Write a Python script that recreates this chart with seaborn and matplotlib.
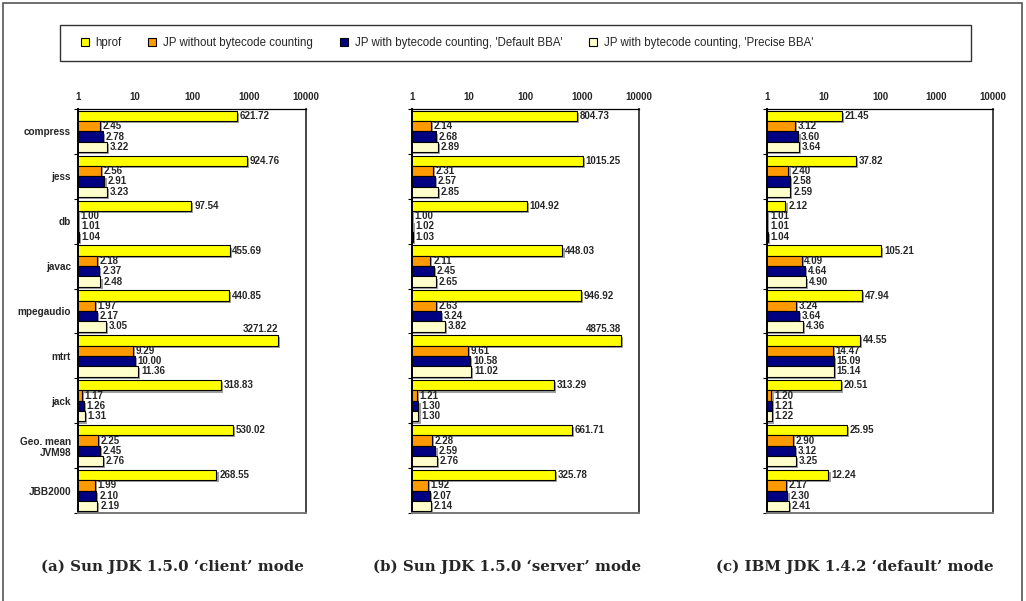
import matplotlib
matplotlib.use("Agg")
import matplotlib.pyplot as plt
import matplotlib.patheffects as pe
from matplotlib.patches import Rectangle, Patch
import pandas as pd
import seaborn as sns

benchmarks = ['compress', 'jess', 'db', 'javac', 'mpegaudio', 'mtrt', 'jack',
              'Geo. mean\nJVM98', 'JBB2000']
series = ['hprof', 'JP without bytecode counting',
          "JP with bytecode counting, 'Default BBA'",
          "JP with bytecode counting, 'Precise BBA'"]
colors = ['#FFFF00', '#FF9900', '#000080', '#FFFFCC']

# (a) Sun JDK 1.5.0 client
a_hprof = [621.72, 924.76, 97.54, 455.69, 440.85, 3271.22, 318.83, 530.02, 268.55]
a_nobc = [2.45, 2.56, 1.00, 2.18, 1.97, 9.29, 1.17, 2.25, 1.99]
a_default = [2.78, 2.91, 1.01, 2.37, 2.17, 10.00, 1.26, 2.45, 2.10]
a_precise = [3.22, 3.23, 1.04, 2.48, 3.05, 11.36, 1.31, 2.76, 2.19]
# (b) Sun JDK 1.5.0 server
b_hprof = [804.73, 1015.25, 104.92, 448.03, 946.92, 4875.38, 313.29, 661.71, 325.78]
b_nobc = [2.14, 2.31, 1.00, 2.11, 2.63, 9.61, 1.21, 2.28, 1.92]
b_default = [2.68, 2.57, 1.02, 2.45, 3.24, 10.58, 1.30, 2.59, 2.07]
b_precise = [2.89, 2.85, 1.03, 2.65, 3.82, 11.02, 1.30, 2.76, 2.14]
# (c) IBM JDK 1.4.2 default
c_hprof = [21.45, 37.82, 2.12, 105.21, 47.94, 44.55, 20.51, 25.95, 12.24]
c_nobc = [3.12, 2.40, 1.01, 4.09, 3.24, 14.47, 1.20, 2.90, 2.17]
c_default = [3.60, 2.58, 1.01, 4.64, 3.64, 15.09, 1.21, 3.12, 2.30]
c_precise = [3.64, 2.59, 1.04, 4.90, 4.36, 15.14, 1.22, 3.25, 2.41]

ticks = [1, 10, 100, 1000, 10000]
tick_labels = ['1', '10', '100', '1000', '10000']
captions = ["(a) Sun JDK 1.5.0 \u2018client\u2019 mode",
            "(b) Sun JDK 1.5.0 \u2018server\u2019 mode",
            "(c) IBM JDK 1.4.2 \u2018default\u2019 mode"]

panels = [(a_hprof, a_nobc, a_default, a_precise),
          (b_hprof, b_nobc, b_default, b_precise),
          (c_hprof, c_nobc, c_default, c_precise)]

sns.set_style("white")
plt.rcParams['font.family'] = ['Liberation Sans', 'DejaVu Sans']

W, H = 1026, 601
fig = plt.figure(figsize=(W / 100, H / 100), dpi=100)

def fx(px):
    return px / W

def fy(py):
    return 1 - py / H

# outer frame
fig.patches.append(Rectangle((fx(3), -0.1), fx(1022) - fx(3), fy(3) + 0.1,
                             transform=fig.transFigure, fill=False,
                             edgecolor='#555555', lw=1.2))
# legend box
fig.patches.append(Rectangle((fx(60), fy(61)), fx(971) - fx(60), fy(25) - fy(61),
                             transform=fig.transFigure, fill=False,
                             edgecolor='#333333', lw=1.0))

lefts = [78, 412, 767]
rights = [306, 639, 993]
cap_x = [172, 507, 855]
top, bottom = 109, 513

shadow = [pe.SimplePatchShadow(offset=(1.5, -1.5), shadow_rgbFace='#888888', alpha=0.8),
          pe.Normal()]

for i, vals in enumerate(panels):
    rows = []
    for s, v in zip(series, vals):
        for b, x in zip(benchmarks, v):
            rows.append({'bench': b, 'series': s, 'value': x})
    df = pd.DataFrame(rows)

    ax = fig.add_axes([fx(lefts[i]), fy(bottom), fx(rights[i]) - fx(lefts[i]),
                       fy(top) - fy(bottom)])
    ax.set_xscale('log')
    sns.barplot(data=df, x='value', y='bench', hue='series', orient='h',
                hue_order=series, order=benchmarks, palette=colors, saturation=1,
                edgecolor='black', linewidth=0.8, errorbar=None, legend=False,
                width=0.92, ax=ax)
    ax.set_xlim(1, 10000)
    ax.set_ylim(len(benchmarks) - 0.5, -0.5)

    for cont, v in zip(ax.containers, vals):
        for patch, x in zip(cont.patches, v):
            patch.set_path_effects(shadow)
            yc = patch.get_y() + patch.get_height() / 2
            if x > 2000:
                ax.text(x, patch.get_y() - 0.02, f'{x:.2f}', ha='right', va='bottom',
                        fontsize=7, fontweight='bold')
            else:
                ax.annotate(f'{x:.2f}', (x, yc), xytext=(2, 0),
                            textcoords='offset points', ha='left', va='center',
                            fontsize=7, fontweight='bold')

    ax.xaxis.tick_top()
    ax.set_xticks(ticks)
    ax.set_xticklabels(tick_labels, fontsize=7, fontweight='bold')
    ax.xaxis.set_minor_locator(matplotlib.ticker.NullLocator())
    ax.tick_params(axis='x', length=0, pad=5)
    ax.set_xlabel('')
    ax.set_ylabel('')

    ax.set_yticks(range(len(benchmarks)))
    if i == 0:
        ax.set_yticklabels(benchmarks, fontsize=7.2, fontweight='bold')
    else:
        ax.set_yticklabels([])
    ax.set_yticks([k - 0.5 for k in range(len(benchmarks) + 1)], minor=True)
    ax.tick_params(axis='y', which='major', length=0, pad=5)
    ax.tick_params(axis='y', which='minor', length=3, width=0.8, direction='out',
                   color='black', left=True)

    for sp in ax.spines.values():
        sp.set_color('black')
        sp.set_linewidth(0.9)
    ax.spines['left'].set_linewidth(1.4)
    ax.spines['bottom'].set_color('#777777')
    ax.spines['bottom'].set_linewidth(1.4)
    ax.spines['right'].set_color('#444444')
    ax.spines['right'].set_linewidth(1.4)

    fig.text(fx(cap_x[i]), fy(567), captions[i], ha='center', va='center',
             fontsize=10.8, fontweight='bold', family=['DejaVu Serif'])

handles = [Patch(facecolor=c, edgecolor='black', linewidth=0.8) for c in colors]
fig.legend(handles, series, loc='center left',
           bbox_to_anchor=(fx(76), fy(43)), ncol=4, frameon=False,
           fontsize=8.3, handlelength=0.7, handleheight=0.7,
           handletextpad=0.6, columnspacing=2.3, borderaxespad=0)

fig.savefig('out.png', dpi=100)
